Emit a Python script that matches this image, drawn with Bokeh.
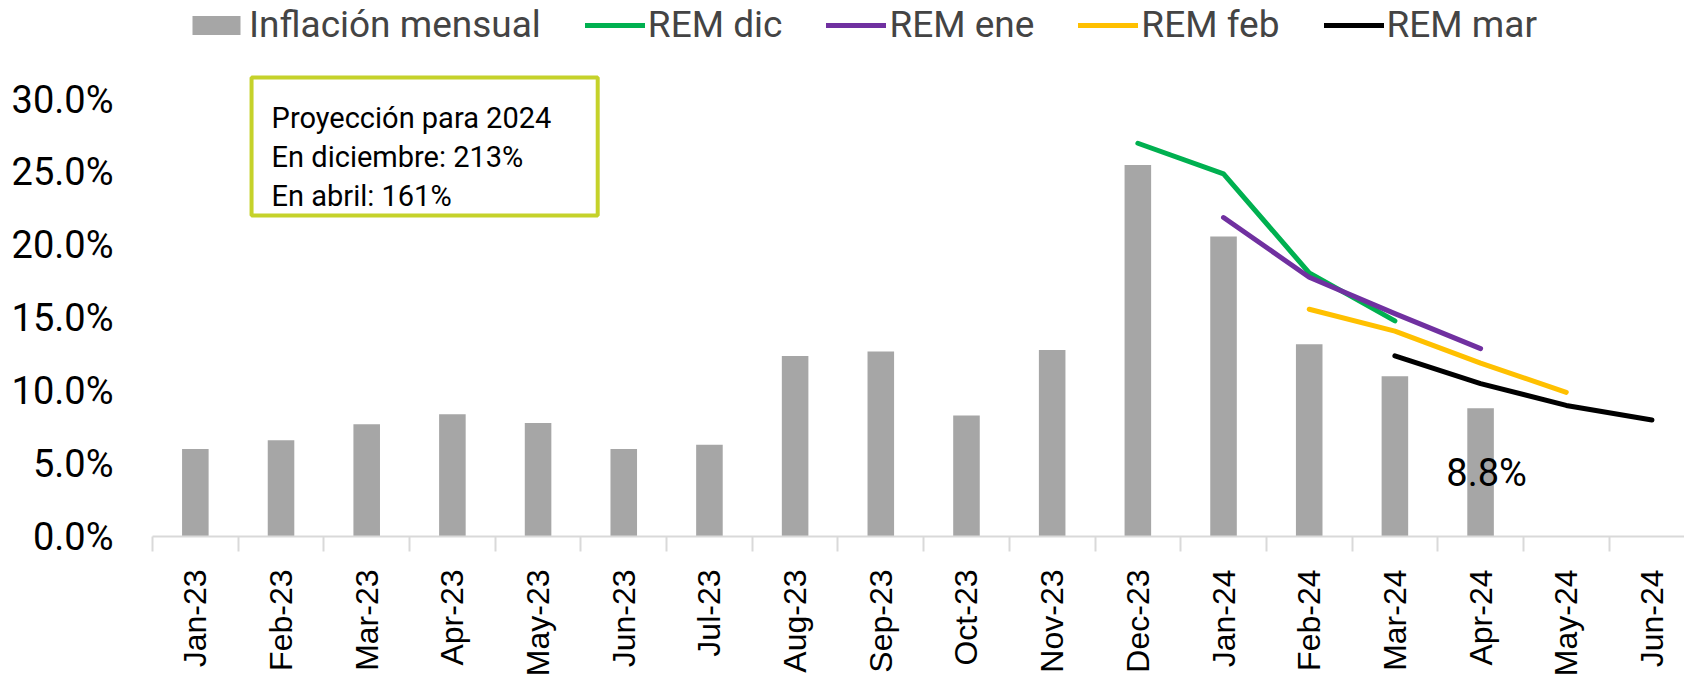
from bokeh.plotting import figure
from bokeh.models import (Range1d, FixedTicker, PrintfTickFormatter, Legend, LegendItem,
                          BoxAnnotation, Label)
from bokeh.embed import file_html
from bokeh.resources import INLINE
import math

# ---------------- data ----------------
months = ["Jan-23", "Feb-23", "Mar-23", "Apr-23", "May-23", "Jun-23", "Jul-23", "Aug-23",
          "Sep-23", "Oct-23", "Nov-23", "Dec-23", "Jan-24", "Feb-24", "Mar-24", "Apr-24",
          "May-24", "Jun-24"]
inflacion = [6.0, 6.6, 7.7, 8.4, 7.8, 6.0, 6.3, 12.4, 12.7, 8.3, 12.8, 25.5, 20.6, 13.2, 11.0, 8.8]

rem_dic_months = ["Dec-23", "Jan-24", "Feb-24", "Mar-24"]
rem_dic = [27.0, 24.9, 18.1, 14.8]
rem_ene_months = ["Jan-24", "Feb-24", "Mar-24", "Apr-24"]
rem_ene = [21.9, 17.8, 15.3, 12.9]
rem_feb_months = ["Feb-24", "Mar-24", "Apr-24", "May-24"]
rem_feb = [15.6, 14.1, 11.9, 9.9]
rem_mar_months = ["Mar-24", "Apr-24", "May-24", "Jun-24"]
rem_mar = [12.4, 10.5, 9.0, 8.0]

y_ticks = [0, 5, 10, 15, 20, 25, 30]
box_lines = ["Proyección para 2024", "En diciembre: 213%", "En abril: 161%"]

# ---------------- helpers ----------------
def xpos(m):
    return months.index(m) + 0.5

centers = [i + 0.5 for i in range(len(months))]
bounds = [i for i in range(len(months) + 1)]

W, H = 1684, 686
p = figure(width=W, height=H, output_backend="svg", toolbar_location=None,
           x_range=Range1d(0, 17.88), y_range=Range1d(0, 36.80),
           min_border_left=152, min_border_right=0, min_border_top=0, min_border_bottom=150)
p.outline_line_color = None
p.xgrid.visible = False
p.ygrid.visible = False
p.background_fill_color = "white"

# x axis
xa = p.xaxis[0]
xa.ticker = FixedTicker(ticks=centers, minor_ticks=bounds)
xa.major_label_overrides = {c: m for c, m in zip(centers, months)}
xa.major_label_orientation = math.pi / 2
xa.major_tick_out = 0
xa.major_tick_in = 0
xa.minor_tick_out = 15
xa.minor_tick_in = 0
xa.minor_tick_line_color = "#d9d9d9"
xa.minor_tick_line_width = 2
xa.axis_line_color = "#d9d9d9"
xa.axis_line_width = 2
xa.major_label_standoff = 18
xa.major_label_text_font = "Liberation Sans"
xa.major_label_text_font_size = "32px"
xa.major_label_text_color = "black"

# y axis
ya = p.yaxis[0]
ya.ticker = FixedTicker(ticks=y_ticks)
ya.formatter = PrintfTickFormatter(format="%.1f%%")
ya.axis_line_color = None
ya.major_tick_line_color = None
ya.minor_tick_line_color = None
ya.major_tick_out = 0
ya.major_label_standoff = 39
ya.major_label_text_font = "Roboto"
ya.major_label_text_font_size = "38px"
ya.major_label_text_color = "black"

# bars
bars = p.vbar(x=centers[:len(inflacion)], top=inflacion, width=0.31,
              fill_color="#a6a6a6", line_color=None)

def rem_line(ms, vals, color):
    return p.line([xpos(m) for m in ms], vals, line_color=color, line_width=5,
                  line_cap="round", line_join="round")

r_dic = rem_line(rem_dic_months, rem_dic, "#00b050")
r_ene = rem_line(rem_ene_months, rem_ene, "#7030a0")
r_feb = rem_line(rem_feb_months, rem_feb, "#ffc000")
r_mar = rem_line(rem_mar_months, rem_mar, "#000000")

# legend
legend = Legend(items=[LegendItem(label="Inflación mensual", renderers=[bars]),
                       LegendItem(label="REM dic", renderers=[r_dic]),
                       LegendItem(label="REM ene", renderers=[r_ene]),
                       LegendItem(label="REM feb", renderers=[r_feb]),
                       LegendItem(label="REM mar", renderers=[r_mar])],
                orientation="horizontal", location=(34, 490),
                label_text_font="Roboto", label_text_font_size="37px",
                glyph_width=60, glyph_height=24, label_standoff=3, spacing=44,
                padding=0, margin=0, border_line_color=None, background_fill_alpha=0)
p.add_layout(legend)

# projection box
box = BoxAnnotation(left=1.156, right=5.196, top=31.51, bottom=22.04,
                    fill_color=None, fill_alpha=0, line_color="#c5d22a", line_width=4,
                    line_alpha=1)
p.add_layout(box)
for txt, yv in zip(box_lines, [28.76, 26.08, 23.41]):
    p.add_layout(Label(x=1.39, y=yv, text=txt, text_font="Roboto", text_font_size="29px",
                       text_color="black", text_baseline="alphabetic", text_align="left"))

# last value label
last_i = len(inflacion) - 1
p.add_layout(Label(x=last_i + 0.5, y=4.39, x_offset=6, text=f"{inflacion[last_i]:.1f}%",
                   text_font="Roboto", text_font_size="38px", text_color="black",
                   text_align="center", text_baseline="alphabetic"))

open("out.html", "w").write(file_html(p, INLINE))
